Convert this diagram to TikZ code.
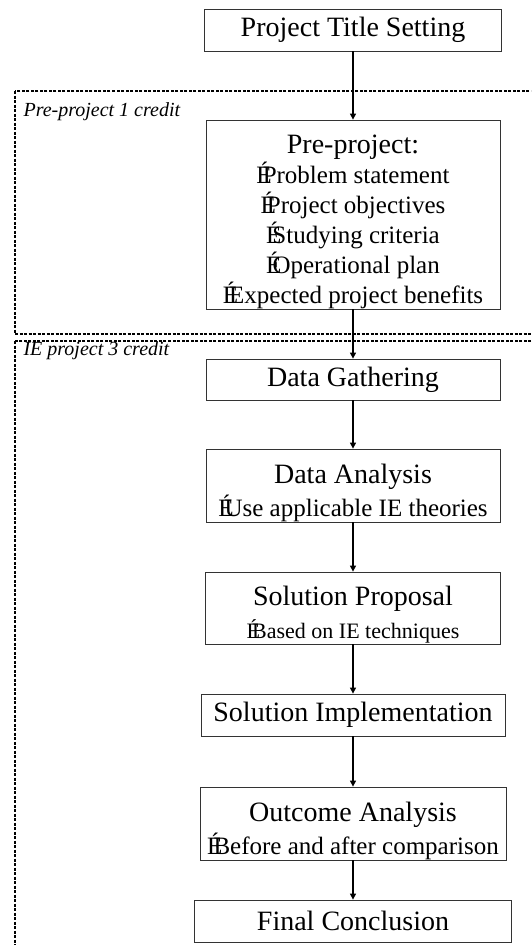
\documentclass[tikz,border=0pt]{standalone}
\usepackage{fontspec}
\setmainfont{Liberation Serif}
\usetikzlibrary{arrows.meta}

\newcommand{\bul}{\makebox[0.25em][l]{É}}
\newcommand{\hd}[1]{{\fontsize{28}{31}\selectfont #1}}

\tikzset{
	stage/.style={draw=black!80, line width=0.8pt, inner sep=0pt, align=center,
		font=\fontsize{28}{31}\selectfont},
	stagetext/.style={inner sep=0pt, align=center, yshift=-7pt},
	flow/.style={-{Triangle[length=6pt,width=6pt]}, line width=1.2pt},
	credit/.style={draw, dash pattern=on 3pt off 1.5pt, line width=1.2pt},
	creditlabel/.style={anchor=west, font=\fontsize{20}{24}\selectfont\itshape}
}

\begin{document}
\begin{tikzpicture}[x=1pt,y=-1pt]
	\useasboundingbox (0,0) rectangle (531,945);
	\clip (0,0) rectangle (531,945);

	% credit regions
	\draw[credit] (15,91) rectangle (560,334);
	\draw[credit] (15,341) rectangle (560,990);
	\node[creditlabel] (prelabel) at (20,112) {Pre-project 1 credit};
	\node[creditlabel] (ielabel) at (20,351) {IE project 3 credit};

	% stages
	\node[stage, minimum width=297pt, minimum height=42pt] (title) at (353,30) {Project Title Setting};
	\node[stage, minimum width=294pt, minimum height=189pt] (pre) at (353,214.5) {};
	\node[stagetext, font=\fontsize{25}{30}\selectfont] (pretext) at (pre.center)
		{\hd{Pre-project:}\\ \bul Problem statement\\ \bul Project objectives\\ \bul Studying criteria\\
		 \bul Operational plan\\ \bul Expected project benefits};
	\node[stage, minimum width=294pt, minimum height=41pt] (gather) at (353,379.5) {Data Gathering};
	\node[stage, minimum width=294pt, minimum height=73pt] (analysis) at (353,485.5) {};
	\node[stagetext, font=\fontsize{25}{33}\selectfont] (analysistext) at (analysis.center)
		{\hd{Data Analysis}\\ \bul Use applicable IE theories};
	\node[stage, minimum width=295pt, minimum height=72pt] (proposal) at (353,608) {};
	\node[stagetext, font=\fontsize{22}{33}\selectfont] (proposaltext) at (proposal.center)
		{\hd{Solution Proposal}\\ \bul Based on IE techniques};
	\node[stage, minimum width=304pt, minimum height=42pt] (impl) at (353,715) {Solution Implementation};
	\node[stage, minimum width=306pt, minimum height=73pt] (outcome) at (353,823.5) {};
	\node[stagetext, font=\fontsize{25}{33}\selectfont] (outcometext) at (outcome.center)
		{\hd{Outcome Analysis}\\ \bul Before and after comparison};
	\node[stage, minimum width=317pt, minimum height=42pt] (final) at (353,921) {Final Conclusion};

	\draw[flow] (title) -- (pre);
	\draw[flow] (pre) -- (gather);
	\draw[flow] (gather) -- (analysis);
	\draw[flow] (analysis) -- (proposal);
	\draw[flow] (proposal) -- (impl);
	\draw[flow] (impl) -- (outcome);
	\draw[flow] (outcome) -- (final);
\end{tikzpicture}
\end{document}
